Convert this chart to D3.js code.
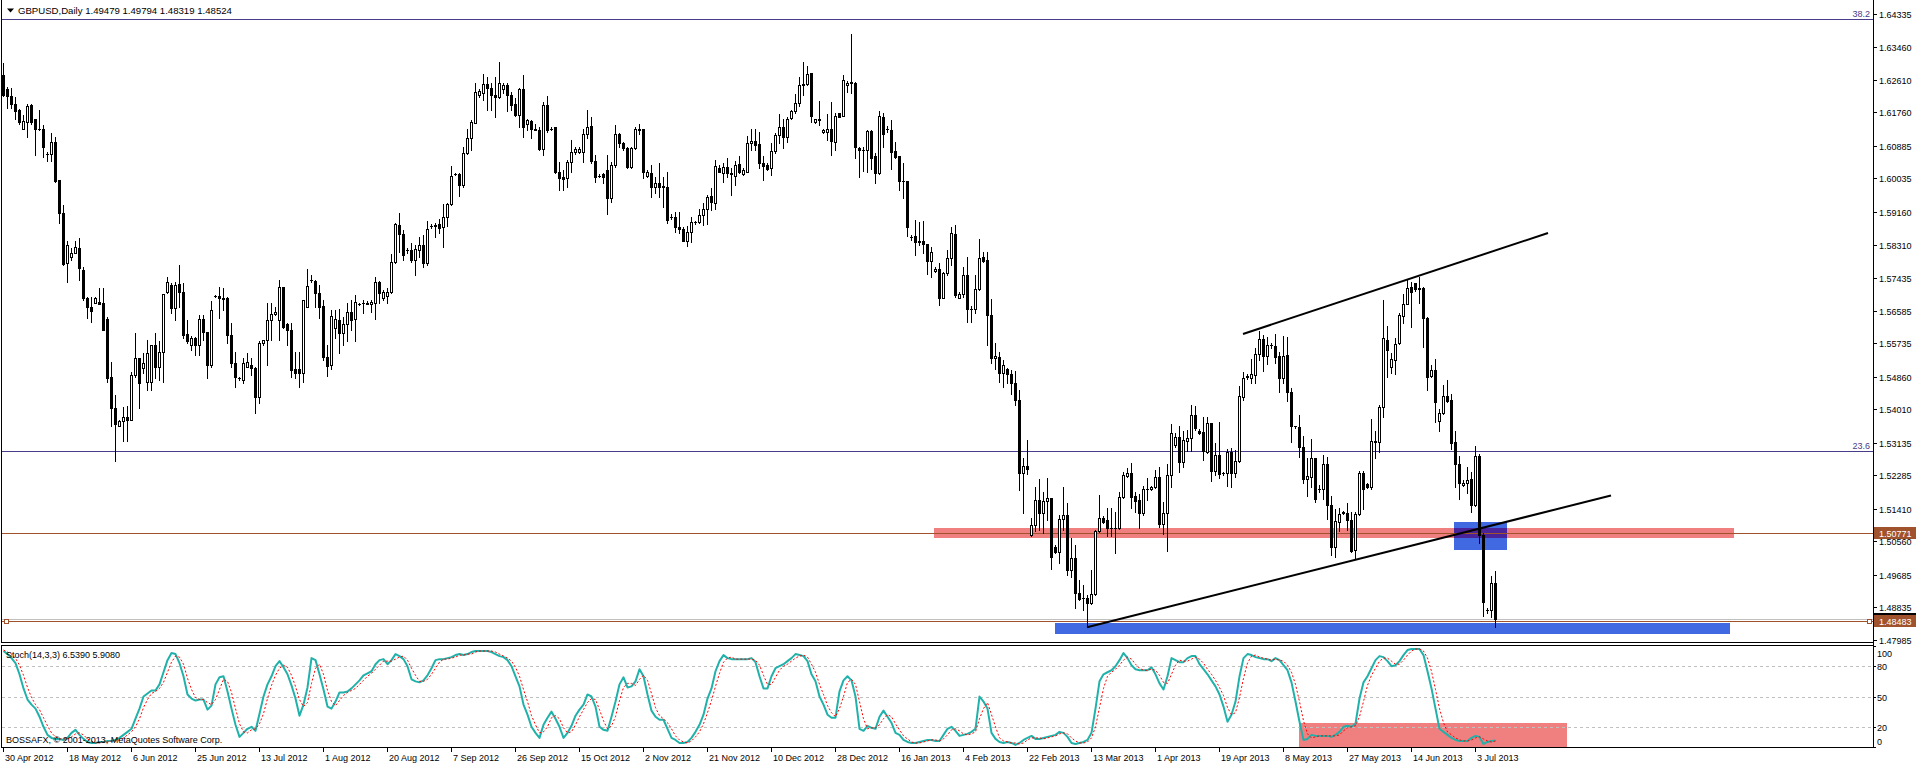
<!DOCTYPE html>
<html><head><meta charset="utf-8">
<script src="https://cdn.jsdelivr.net/npm/d3@7"></script>
<style>
html,body{margin:0;padding:0;background:#fff;}
svg{display:block;}
text{font-family:"Liberation Sans",Arial,sans-serif;font-size:9px;fill:#000;}
text.hdr{font-size:9.6px;}
</style></head><body>
<svg id="c" width="1916" height="766" shape-rendering="crispEdges"></svg>
<script>
// ---------------- DATA ----------------
const title = "GBPUSD,Daily";
const lastQuote = ["1.49479","1.49794","1.48319","1.48524"];
const stochTitle = "Stoch(14,3,3) 6.5390 5.9080";
const copyright = "BOSSAFX, \u00A9 2001-2013, MetaQuotes Software Corp.";

const openP = [
1.6274,1.6236,1.6219,1.6198,1.6182,1.6133,1.6152,1.6195,1.6158,1.6133,
1.6132,1.6068,1.6067,1.6099,1.6000,1.5913,1.5782,1.5798,1.5810,1.5821,
1.5765,1.5691,1.5669,1.5679,1.5681,1.5678,1.5636,1.5484,1.5404,1.5357,
1.5369,1.5382,1.5373,1.5491,1.5534,1.5508,1.5473,1.5471,1.5569,1.5510,
1.5551,1.5708,1.5725,1.5665,1.5728,1.5706,1.5597,1.5569,1.5586,1.5569,
1.5636,1.5603,1.5517,1.5697,1.5697,1.5692,1.5691,1.5595,1.5521,1.5482,
1.5477,1.5512,1.5517,1.5508,1.5432,1.5573,1.5582,1.5634,1.5650,1.5634,
1.5721,1.5624,1.5608,1.5505,1.5505,1.5495,1.5667,1.5738,1.5737,1.5704,
1.5671,1.5538,1.5517,1.5612,1.5634,1.5599,1.5624,1.5656,1.5636,1.5676,
1.5679,1.5676,1.5676,1.5679,1.5734,1.5692,1.5697,1.5706,1.5785,1.5882,
1.5859,1.5817,1.5817,1.5791,1.5817,1.5830,1.5784,1.5879,1.5879,1.5884,
1.5878,1.5902,1.5937,1.6015,1.6015,1.5986,1.6069,1.6108,1.6149,1.6221,
1.6228,1.6250,1.6241,1.6221,1.6215,1.6236,1.6247,1.6221,1.6198,1.6169,
1.6236,1.6147,1.6154,1.6134,1.6130,1.6080,1.6195,1.6134,1.6139,1.6021,
1.6008,1.6004,1.6047,1.6073,1.6073,1.6073,1.6120,1.6140,1.6049,1.6011,
1.6014,1.6026,1.5952,1.6039,1.6120,1.6095,1.6082,1.6034,1.6084,1.6130,
1.6133,1.6011,1.6017,1.5980,1.5993,1.5985,1.5980,1.5904,1.5902,1.5876,
1.5871,1.5841,1.5863,1.5889,1.5889,1.5908,1.5925,1.5957,1.5939,1.6032,
1.6019,1.6034,1.6019,1.6011,1.6041,1.6015,1.6021,1.6095,1.6101,1.6093,
1.6045,1.6039,1.6030,1.6075,1.6117,1.6139,1.6111,1.6162,1.6180,1.6200,
1.6247,1.6250,1.6278,1.6152,1.6158,1.6124,1.6126,1.6134,1.6100,1.6174,
1.6167,1.6247,1.6256,1.6254,1.6084,1.6078,1.6078,1.6127,1.6062,1.6017,
1.6163,1.6132,1.6130,1.6075,1.6062,1.5998,1.5997,1.5850,1.5853,1.5841,
1.5841,1.5832,1.5789,1.5762,1.5767,1.5691,1.5756,1.5795,1.5859,1.5691,
1.5702,1.5751,1.5662,1.5664,1.5714,1.5799,1.5790,1.5647,1.5534,1.5538,
1.5495,1.5505,1.5493,1.5469,1.5424,1.5235,1.5253,1.5073,1.5100,1.5164,
1.5129,1.5161,1.5170,1.5042,1.5029,1.5114,1.5125,1.4981,1.5013,1.4922,
1.4907,1.4907,1.4896,1.4919,1.5083,1.5116,1.5112,1.5092,1.5092,1.5090,
1.5171,1.5227,1.5234,1.5175,1.5164,1.5129,1.5194,1.5192,1.5199,1.5225,
1.5101,1.5131,1.5229,1.5308,1.5329,1.5264,1.5319,1.5327,1.5386,1.5345,
1.5342,1.5290,1.5366,1.5241,1.5282,1.5234,1.5234,1.5290,1.5235,1.5266,
1.5434,1.5486,1.5482,1.5490,1.5545,1.5585,1.5540,1.5569,1.5566,1.5541,
1.5482,1.5543,1.5447,1.5356,1.5354,1.5302,1.5218,1.5225,1.5273,1.5192,
1.5192,1.5258,1.5151,1.5042,1.5107,1.5134,1.5131,1.5112,1.5034,1.5128,
1.5235,1.5206,1.5197,1.5319,1.5315,1.5408,1.5582,1.5512,1.5529,1.5573,
1.5644,1.5677,1.5719,1.5730,1.5717,1.5717,1.5638,1.5489,1.5503,1.5371,
1.5390,1.5436,1.5425,1.5315,1.5258,1.5203,1.5208,1.5218,1.5151,1.5279,
1.5073,1.4877,1.4877,1.49479];

const highP = [
1.6304,1.6243,1.6241,1.6217,1.6184,1.6169,1.6198,1.6198,1.6160,1.6182,
1.6143,1.6073,1.6121,1.6113,1.6000,1.5934,1.5839,1.5821,1.5841,1.5847,
1.5772,1.5695,1.5695,1.5695,1.5717,1.5717,1.5641,1.5525,1.5438,1.5373,
1.5408,1.5410,1.5497,1.5599,1.5534,1.5549,1.5582,1.5569,1.5599,1.5578,
1.5702,1.5745,1.5730,1.5734,1.5778,1.5730,1.5634,1.5591,1.5589,1.5647,
1.5647,1.5603,1.5684,1.5699,1.5721,1.5717,1.5695,1.5625,1.5551,1.5486,
1.5534,1.5547,1.5534,1.5512,1.5580,1.5583,1.5678,1.5678,1.5669,1.5738,
1.5721,1.5625,1.5625,1.5551,1.5551,1.5686,1.5767,1.5751,1.5738,1.5725,
1.5686,1.5569,1.5660,1.5660,1.5662,1.5643,1.5678,1.5686,1.5699,1.5679,
1.5686,1.5684,1.5686,1.5747,1.5737,1.5712,1.5717,1.5806,1.5886,1.5914,
1.5869,1.5821,1.5834,1.5830,1.5852,1.5856,1.5893,1.5884,1.5886,1.5897,
1.5937,1.5940,1.6036,1.6019,1.6019,1.6087,1.6133,1.6156,1.6254,1.6236,
1.6276,1.6269,1.6252,1.6269,1.6308,1.6254,1.6252,1.6230,1.6213,1.6239,
1.6274,1.6158,1.6156,1.6146,1.6139,1.6204,1.6219,1.6139,1.6139,1.6047,
1.6026,1.6052,1.6104,1.6085,1.6085,1.6134,1.6182,1.6163,1.6065,1.6014,
1.6017,1.6065,1.6046,1.6143,1.6121,1.6100,1.6086,1.6087,1.6139,1.6145,
1.6133,1.6026,1.6039,1.6008,1.6043,1.6008,1.6021,1.5910,1.5917,1.5917,
1.5878,1.5880,1.5904,1.5893,1.5925,1.5939,1.5960,1.5978,1.6052,1.6039,
1.6045,1.6058,1.6030,1.6049,1.6062,1.6030,1.6114,1.6132,1.6132,1.6126,
1.6062,1.6045,1.6095,1.6121,1.6172,1.6160,1.6165,1.6182,1.6224,1.6269,
1.6307,1.6298,1.6278,1.6160,1.6206,1.6132,1.6172,1.6204,1.6174,1.6175,
1.6274,1.6259,1.6382,1.6256,1.6087,1.6085,1.6130,1.6130,1.6071,1.6181,
1.6174,1.6141,1.6156,1.6100,1.6062,1.6043,1.5997,1.5856,1.5895,1.5891,
1.5893,1.5832,1.5825,1.5772,1.5784,1.5760,1.5817,1.5876,1.5882,1.5708,
1.5772,1.5799,1.5670,1.5751,1.5845,1.5812,1.5812,1.5690,1.5575,1.5551,
1.5529,1.5508,1.5504,1.5502,1.5450,1.5273,1.5321,1.5116,1.5197,1.5218,
1.5186,1.5221,1.5170,1.5046,1.5125,1.5197,1.5155,1.5064,1.5047,1.4955,
1.4942,1.4916,1.4981,1.5086,1.5177,1.5121,1.5144,1.5144,1.5134,1.5186,
1.5236,1.5247,1.5260,1.5186,1.5181,1.5201,1.5221,1.5201,1.5243,1.5249,
1.5160,1.5258,1.5362,1.5338,1.5356,1.5343,1.5347,1.5412,1.5409,1.5349,
1.5382,1.5380,1.5366,1.5314,1.5368,1.5238,1.5296,1.5299,1.5295,1.5462,
1.5499,1.5492,1.5533,1.5560,1.5605,1.5595,1.5590,1.5575,1.5597,1.5551,
1.5592,1.5590,1.5456,1.5357,1.5386,1.5331,1.5273,1.5323,1.5273,1.5203,
1.5282,1.5276,1.5175,1.5140,1.5142,1.5136,1.5155,1.5134,1.5134,1.5240,
1.5240,1.5209,1.5376,1.5345,1.5412,1.5685,1.5618,1.5547,1.5586,1.5651,
1.5703,1.5738,1.5734,1.5731,1.5747,1.5721,1.5641,1.5516,1.5531,1.5401,
1.5463,1.5477,1.5441,1.5345,1.5279,1.5215,1.5249,1.5238,1.5306,1.5284,
1.5077,1.4881,1.4966,1.49794];

const lowP = [
1.6219,1.6187,1.6187,1.6160,1.6147,1.6133,1.6113,1.6147,1.6065,1.6130,
1.6060,1.6050,1.6050,1.5995,1.5888,1.5778,1.5732,1.5791,1.5808,1.5738,
1.5686,1.5638,1.5630,1.5678,1.5676,1.5608,1.5473,1.5357,1.5267,1.5356,
1.5319,1.5319,1.5373,1.5486,1.5404,1.5495,1.5451,1.5451,1.5482,1.5477,
1.5473,1.5704,1.5651,1.5634,1.5669,1.5586,1.5573,1.5556,1.5543,1.5543,
1.5582,1.5482,1.5512,1.5695,1.5638,1.5660,1.5573,1.5512,1.5460,1.5477,
1.5469,1.5512,1.5491,1.5390,1.5416,1.5569,1.5517,1.5582,1.5647,1.5582,
1.5612,1.5569,1.5486,1.5482,1.5460,1.5473,1.5667,1.5734,1.5669,1.5638,
1.5530,1.5489,1.5505,1.5586,1.5547,1.5569,1.5578,1.5608,1.5578,1.5673,
1.5651,1.5676,1.5656,1.5636,1.5678,1.5686,1.5678,1.5704,1.5782,1.5812,
1.5791,1.5810,1.5786,1.5752,1.5799,1.5772,1.5778,1.5875,1.5852,1.5860,
1.5825,1.5879,1.5934,1.6013,1.5959,1.5982,1.6067,1.6078,1.6149,1.6217,
1.6208,1.6182,1.6182,1.6163,1.6213,1.6226,1.6180,1.6182,1.6167,1.6139,
1.6113,1.6130,1.6108,1.6130,1.6078,1.6065,1.6126,1.6130,1.6017,1.5973,
1.5973,1.5982,1.6021,1.6067,1.6069,1.6047,1.6108,1.6043,1.5995,1.6008,
1.5991,1.5912,1.5943,1.6034,1.6087,1.6078,1.6032,1.6032,1.6080,1.6120,
1.6004,1.6008,1.5956,1.5965,1.5956,1.5930,1.5886,1.5899,1.5863,1.5860,
1.5839,1.5827,1.5837,1.5884,1.5886,1.5882,1.5884,1.5921,1.5925,1.6021,
1.5995,1.6008,1.5960,1.5986,1.6017,1.6013,1.6021,1.6078,1.6078,1.6032,
1.6000,1.6026,1.6013,1.6069,1.6095,1.6084,1.6100,1.6160,1.6174,1.6193,
1.6221,1.6247,1.6152,1.6149,1.6143,1.6121,1.6104,1.6065,1.6078,1.6163,
1.6167,1.6230,1.6226,1.6056,1.6008,1.6024,1.6021,1.6027,1.5993,1.6015,
1.6087,1.6126,1.6027,1.6056,1.5973,1.5953,1.5853,1.5843,1.5805,1.5830,
1.5808,1.5754,1.5745,1.5760,1.5673,1.5691,1.5752,1.5778,1.5695,1.5691,
1.5693,1.5630,1.5630,1.5652,1.5712,1.5786,1.5569,1.5521,1.5505,1.5473,
1.5460,1.5469,1.5440,1.5413,1.5190,1.5131,1.5232,1.5070,1.5084,1.5086,
1.5077,1.5112,1.4984,1.5026,1.4999,1.5086,1.4968,1.4964,1.4883,1.4903,
1.4877,1.4833,1.4893,1.4916,1.5080,1.5105,1.5070,1.5070,1.5026,1.5088,
1.5168,1.5225,1.5142,1.5134,1.5092,1.5125,1.5164,1.5190,1.5195,1.5094,
1.5075,1.5032,1.5199,1.5303,1.5238,1.5249,1.5293,1.5292,1.5347,1.5336,
1.5268,1.5288,1.5214,1.5230,1.5221,1.5229,1.5201,1.5197,1.5225,1.5264,
1.5425,1.5480,1.5470,1.5470,1.5530,1.5500,1.5520,1.5560,1.5521,1.5447,
1.5470,1.5423,1.5315,1.5351,1.5276,1.5208,1.5175,1.5197,1.5158,1.5186,
1.5166,1.5115,1.5021,1.5014,1.5084,1.5128,1.5086,1.5027,1.5009,1.5125,
1.5140,1.5195,1.5192,1.5273,1.5290,1.5382,1.5486,1.5495,1.5493,1.5571,
1.5625,1.5676,1.5615,1.5711,1.5679,1.5564,1.5450,1.5486,1.5367,1.5343,
1.5389,1.5421,1.5296,1.5199,1.5166,1.5201,1.5183,1.5134,1.5148,1.5053,
1.4860,1.4868,1.4858,1.48319];

const closeP = [
1.6221,1.6220,1.6198,1.6180,1.6152,1.6154,1.6194,1.6152,1.6132,1.6133,
1.6085,1.6068,1.6099,1.5998,1.5913,1.5780,1.5830,1.5810,1.5824,1.5769,
1.5691,1.5669,1.5658,1.5691,1.5676,1.5608,1.5482,1.5404,1.5362,1.5369,
1.5382,1.5373,1.5491,1.5534,1.5469,1.5521,1.5547,1.5569,1.5510,1.5551,
1.5702,1.5732,1.5665,1.5725,1.5706,1.5595,1.5578,1.5586,1.5569,1.5636,
1.5603,1.5517,1.5660,1.5697,1.5692,1.5688,1.5595,1.5521,1.5486,1.5482,
1.5523,1.5525,1.5508,1.5432,1.5573,1.5582,1.5634,1.5650,1.5654,1.5721,
1.5617,1.5608,1.5504,1.5495,1.5495,1.5686,1.5724,1.5738,1.5704,1.5669,
1.5538,1.5514,1.5645,1.5636,1.5599,1.5624,1.5656,1.5634,1.5682,1.5676,
1.5679,1.5679,1.5682,1.5734,1.5704,1.5706,1.5708,1.5785,1.5884,1.5859,
1.5804,1.5817,1.5791,1.5819,1.5830,1.5784,1.5872,1.5879,1.5882,1.5873,
1.5902,1.5937,1.6010,1.6015,1.5986,1.6069,1.6108,1.6152,1.6230,1.6233,
1.6250,1.6241,1.6221,1.6215,1.6252,1.6247,1.6221,1.6195,1.6169,1.6236,
1.6139,1.6156,1.6132,1.6130,1.6080,1.6195,1.6130,1.6134,1.6021,1.6004,
1.6002,1.6047,1.6073,1.6080,1.6080,1.6120,1.6139,1.6049,1.6008,1.6011,
1.6008,1.5952,1.6039,1.6120,1.6095,1.6082,1.6034,1.6084,1.6134,1.6134,
1.6021,1.6021,1.5980,1.5993,1.5982,1.5980,1.5895,1.5904,1.5876,1.5871,
1.5841,1.5863,1.5889,1.5889,1.5908,1.5925,1.5954,1.5941,1.6036,1.6021,
1.6034,1.6017,1.6015,1.6040,1.6021,1.6026,1.6095,1.6101,1.6091,1.6043,
1.6037,1.6027,1.6075,1.6117,1.6137,1.6111,1.6158,1.6180,1.6200,1.6247,
1.6250,1.6276,1.6167,1.6158,1.6155,1.6130,1.6134,1.6101,1.6167,1.6165,
1.6261,1.6252,1.6252,1.6085,1.6078,1.6078,1.6127,1.6058,1.6017,1.6167,
1.6120,1.6132,1.6073,1.6060,1.5998,1.5998,1.5876,1.5850,1.5837,1.5837,
1.5832,1.5789,1.5812,1.5767,1.5691,1.5756,1.5795,1.5862,1.5699,1.5702,
1.5751,1.5664,1.5662,1.5714,1.5797,1.5789,1.5647,1.5534,1.5540,1.5495,
1.5516,1.5493,1.5469,1.5424,1.5235,1.5253,1.5244,1.5100,1.5164,1.5129,
1.5161,1.5170,1.5016,1.5029,1.5114,1.5125,1.4981,1.5012,1.4920,1.4906,
1.4907,1.4896,1.4919,1.5083,1.5118,1.5107,1.5092,1.5092,1.5090,1.5171,
1.5229,1.5234,1.5173,1.5162,1.5129,1.5192,1.5192,1.5199,1.5225,1.5101,
1.5131,1.5229,1.5338,1.5329,1.5264,1.5321,1.5327,1.5386,1.5353,1.5338,
1.5292,1.5366,1.5241,1.5282,1.5232,1.5234,1.5290,1.5235,1.5266,1.5436,
1.5482,1.5487,1.5494,1.5545,1.5585,1.5540,1.5570,1.5569,1.5538,1.5482,
1.5541,1.5447,1.5357,1.5356,1.5302,1.5218,1.5227,1.5273,1.5166,1.5192,
1.5258,1.5151,1.5042,1.5109,1.5128,1.5129,1.5112,1.5032,1.5128,1.5235,
1.5192,1.5197,1.5319,1.5315,1.5408,1.5586,1.5556,1.5532,1.5571,1.5647,
1.5677,1.5717,1.5706,1.5714,1.5714,1.5638,1.5486,1.5503,1.5421,1.5390,
1.5436,1.5423,1.5312,1.5257,1.5208,1.5209,1.5216,1.5151,1.5279,1.5073,
1.4899,1.4877,1.4947,1.48524];

const stochK = [
95,92,88,83,72,58,47,42,38,30, 20,12,9,8,8,7,9,14,17,12,
8,5,4,4,5,5,6,6,7,9, 12,15,18,28,38,50,53,56,56,62,
74,86,93,92,83,70,52,48,46,47, 47,37,41,62,69,70,55,38,22,10,
14,18,20,16,33,50,62,70,80,85, 79,72,61,48,31,42,59,88,86,72,
57,40,38,45,54,54,55,58,62,66, 71,73,75,82,86,87,82,86,92,90,
87,80,67,65,64,66,71,78,86,87, 87,88,89,91,92,91,92,94,95,95,
95,95,94,92,90,89,86,80,70,60, 42,32,20,14,9,22,29,35,28,20,
9,14,21,31,37,42,52,50,40,20, 17,16,30,45,62,69,59,60,65,77,
70,52,36,30,27,27,18,9,7,4, 4,5,9,15,22,32,48,58,75,85,
91,88,87,87,87,87,87,88,84,70, 58,58,70,78,80,82,85,88,92,91,
90,85,72,65,50,42,32,29,29,55, 66,70,66,50,18,16,21,19,18,30,
36,30,24,14,12,7,5,4,4,5, 6,7,7,6,6,12,18,20,16,11,
12,13,15,18,50,45,38,14,8,5, 4,5,4,2,4,7,9,11,8,8,
9,10,11,12,15,14,10,4,3,4, 5,7,14,38,65,72,74,76,80,86,
93,88,81,77,76,76,76,79,72,63, 57,70,88,86,84,84,88,90,90,82,
77,72,66,60,52,40,25,32,45,70, 88,92,91,89,88,87,87,85,88,86,
81,76,64,45,25,7,8,12,11,11, 11,11,10,12,15,20,21,20,23,48,
64,70,78,86,90,89,85,80,81,85, 91,96,97,97,97,91,75,58,38,18,
15,12,9,7,6,6,6,9,11,10, 3,5,6,6.539];

const stochD = [
96,94,92,88,81,71,59,49,42,37, 29,21,14,10,8,8,8,10,13,14,
12,8,6,4,4,5,5,6,6,7, 9,12,15,20,28,39,47,53,55,58,
64,74,84,90,89,82,68,57,49,47, 47,44,42,47,57,67,65,54,38,23,
15,14,17,18,23,33,48,61,71,78, 81,79,71,60,47,40,44,63,78,82,
72,56,45,41,46,51,54,56,58,62, 66,70,73,77,81,85,85,85,87,89,
90,86,78,71,65,65,67,72,78,84, 87,87,88,89,91,91,92,92,94,95,
95,95,95,94,92,90,88,85,79,70, 57,45,31,22,14,15,20,29,31,28,
19,14,15,22,30,37,44,48,47,37, 26,18,21,30,46,59,63,63,61,67,
71,66,53,39,31,28,24,18,11,7, 5,4,6,10,15,23,34,46,60,73,
84,88,89,87,87,87,87,87,86,81, 71,62,62,69,76,80,82,85,88,90,
91,89,82,74,62,52,41,34,30,38, 50,64,67,62,45,28,18,19,19,22,
28,32,30,23,17,11,8,5,4,4, 5,6,7,7,6,8,12,17,18,16,
13,12,13,15,28,38,44,32,20,9, 6,5,4,4,3,4,7,9,9,9,
8,9,10,11,13,14,13,9,6,4, 4,5,9,20,39,58,70,74,77,81,
86,89,87,82,78,76,76,77,76,71, 64,63,72,81,86,85,85,87,89,87,
83,77,72,66,59,51,39,32,34,49, 68,83,90,91,89,88,87,86,87,86,
85,81,74,62,45,26,13,9,10,11, 11,11,11,11,12,16,19,20,21,30,
45,61,71,78,85,88,88,85,82,82, 86,91,95,97,97,95,88,75,57,38,
24,15,12,9,7,6,6,7,9,10, 8,6,5,5.908];

const dateLabels = ["30 Apr 2012","18 May 2012","6 Jun 2012","25 Jun 2012","13 Jul 2012","1 Aug 2012",
"20 Aug 2012","7 Sep 2012","26 Sep 2012","15 Oct 2012","2 Nov 2012","21 Nov 2012","10 Dec 2012",
"28 Dec 2012","16 Jan 2013","4 Feb 2013","22 Feb 2013","13 Mar 2013","1 Apr 2013","19 Apr 2013",
"8 May 2013","27 May 2013","14 Jun 2013","3 Jul 2013"];
const dateLabelBars = [0,16,32,48,64,80,96,112,128,144,160,176,192,208,224,240,256,272,288,304,320,336,352,368];

const priceTicks = [1.64335,1.63460,1.62610,1.61760,1.60885,1.60035,1.59160,1.58310,1.57435,1.56585,
1.55735,1.54860,1.54010,1.53135,1.52285,1.51410,1.50560,1.49685,1.48835,1.47985];
const stochLevels = [20,50,80];
const stochAxisLabels = [100,80,50,20,0];

const fibLevels = [["38.2",1.6420],["23.6",1.5291]];
const levelLines = [1.50771,1.48483];
const bidPrice = 1.48524;

// zones: [barFrom, barTo, priceLow, priceHigh]
const resistanceZone = [232.75,432.75,1.5066,1.5092];
const breakBox = [362.75,376,1.5034,1.5107];
const supportZone = [263,431.75,1.4814,1.4844];
const stochZone = [324,391,0,24];
// trend lines: [bar1, price1, bar2, price2]
const trendLines = [[310,1.55975,386.25,1.58612],[271,1.48317,402,1.51758]];

// ---------------- DRAW ----------------
const svg = d3.select('#c');
const AX = 1873;
const xS = d3.scaleLinear().domain([0,467]).range([3,3+4*467]);
const yP = d3.scaleLinear().domain([1.47985,1.64335]).range([640,640-0.1635*3830]);
const yS = d3.scaleLinear().domain([0,100]).range([747,646]);
const R = Math.round;

const defs = svg.append('defs');
defs.append('clipPath').attr('id','cm').append('rect').attr('x',2).attr('y',0).attr('width',AX-2).attr('height',642);
defs.append('clipPath').attr('id','cs').append('rect').attr('x',2).attr('y',646).attr('width',AX-2).attr('height',101);

const gm = svg.append('g').attr('clip-path','url(#cm)');
const gs = svg.append('g').attr('clip-path','url(#cs)');

function zoneRect(g, z, color, ys){
  const x0=R(xS(z[0])), x1=R(xS(z[1]));
  const y0=R(ys(z[3])), y1=R(ys(z[2]));
  g.append('rect').attr('x',x0).attr('y',y0).attr('width',x1-x0).attr('height',y1-y0).attr('fill',color);
}
zoneRect(gm, resistanceZone, '#F08080', yP);
zoneRect(gm, breakBox, '#4169E1', yP);
const ov = [Math.max(resistanceZone[0],breakBox[0]),Math.min(resistanceZone[1],breakBox[1]),
            Math.max(resistanceZone[2],breakBox[2]),Math.min(resistanceZone[3],breakBox[3])];
zoneRect(gm, ov, '#4B2399', yP);
zoneRect(gm, supportZone, '#4169E1', yP);

fibLevels.forEach(([lab,p])=>{
  const yy = R(yP(p))+0.5;
  gm.append('line').attr('x1',2).attr('x2',AX).attr('y1',yy).attr('y2',yy).attr('stroke','#483D8B').attr('stroke-width',1);
  svg.append('text').attr('x',AX-3).attr('y',yy-2.5).attr('text-anchor','end').style('fill','#483D8B').text(lab);
});
{ const yy=R(yP(bidPrice))+0.5;
  gm.append('line').attr('x1',2).attr('x2',AX).attr('y1',yy).attr('y2',yy).attr('stroke','#C0C0C0'); }
levelLines.forEach(p=>{
  const yy=R(yP(p))+0.5;
  gm.append('line').attr('x1',2).attr('x2',AX).attr('y1',yy).attr('y2',yy).attr('stroke','#A0522D');
});
{ const yy=R(yP(levelLines[1]));
  [4, AX-6].forEach(xx=>{
    gm.append('rect').attr('x',xx+0.5).attr('y',yy-2+0.5).attr('width',4).attr('height',4)
      .attr('fill','#fff').attr('stroke','#A0522D');
  }); }

// candles
const bars = d3.range(closeP.length).map(i=>({i,o:openP[i],h:highP[i],l:lowP[i],c:closeP[i]}));
const gc = gm.append('g');
gc.selectAll('rect.w').data(bars).join('rect').attr('class','w')
  .attr('x',d=>R(xS(d.i))).attr('width',1)
  .attr('y',d=>R(yP(d.h))).attr('height',d=>Math.max(1,R(yP(d.l))-R(yP(d.h))+1)).attr('fill','#000');
gc.selectAll('rect.b').data(bars).join('rect').attr('class','b')
  .attr('x',d=>R(xS(d.i))-1).attr('width',3)
  .attr('y',d=>R(yP(Math.max(d.o,d.c))))
  .attr('height',d=>R(yP(Math.min(d.o,d.c)))-R(yP(Math.max(d.o,d.c)))+1).attr('fill','#000');
gc.selectAll('rect.f').data(bars.filter(d=>d.c>d.o && R(yP(d.o))-R(yP(d.c))>=2)).join('rect').attr('class','f')
  .attr('x',d=>R(xS(d.i))).attr('width',1)
  .attr('y',d=>R(yP(d.c))+1)
  .attr('height',d=>R(yP(d.o))-R(yP(d.c))-1).attr('fill','#fff');

trendLines.forEach(t=>{
  gm.append('line').attr('x1',xS(t[0])).attr('y1',yP(t[1])).attr('x2',xS(t[2])).attr('y2',yP(t[3]))
    .attr('stroke','#000').attr('stroke-width',2).attr('shape-rendering','auto');
});

// stochastic panel
zoneRect(gs, stochZone, '#F08080', yS);
stochLevels.forEach(v=>{
  const yy=R(yS(v))+0.5;
  gs.append('line').attr('x1',2).attr('x2',AX).attr('y1',yy).attr('y2',yy)
    .attr('stroke','#C0C0C0').attr('stroke-dasharray','3,3');
});
const lineK = d3.line().x((d,i)=>xS(i)+0.5).y(d=>yS(d));
gs.append('path').attr('d',lineK(stochK)).attr('fill','none').attr('stroke','#20B2AA').attr('stroke-width',2)
  .attr('shape-rendering','auto').attr('stroke-linejoin','round');
gs.append('path').attr('d',lineK(stochD)).attr('fill','none').attr('stroke','#FF0000').attr('stroke-width',1)
  .attr('stroke-dasharray','2,2').attr('shape-rendering','auto');

// frames
const fr = svg.append('g').attr('stroke','#000').attr('fill','none');
fr.append('line').attr('x1',1.5).attr('x2',1.5).attr('y1',0).attr('y2',643);
fr.append('line').attr('x1',1).attr('x2',AX+1).attr('y1',642.5).attr('y2',642.5);
fr.append('line').attr('x1',1).attr('x2',AX+1).attr('y1',645.5).attr('y2',645.5);
fr.append('line').attr('x1',1.5).attr('x2',1.5).attr('y1',645).attr('y2',748);
fr.append('line').attr('x1',1).attr('x2',AX+1).attr('y1',747.5).attr('y2',747.5);
fr.append('line').attr('x1',AX+0.5).attr('x2',AX+0.5).attr('y1',0).attr('y2',748);

priceTicks.forEach(p=>{
  const yy=R(yP(p));
  svg.append('line').attr('x1',AX).attr('x2',AX+4).attr('y1',yy+0.5).attr('y2',yy+0.5).attr('stroke','#000');
  svg.append('text').attr('x',1879).attr('y',yy+3.5).text(p.toFixed(5));
});
function axisBox(p, color, txt){
  const yy=R(yP(p));
  svg.append('rect').attr('x',AX+1).attr('y',yy-6).attr('width',1916-AX-1).attr('height',12).attr('fill',color);
  svg.append('text').attr('x',1879).attr('y',yy+3.5).style('fill','#fff').text(txt);
}
axisBox(bidPrice,'#000',bidPrice.toFixed(5));
axisBox(levelLines[0],'#A0522D',levelLines[0].toFixed(5));
axisBox(levelLines[1],'#A0522D',levelLines[1].toFixed(5));

stochAxisLabels.forEach(v=>{
  const yy=R(yS(v));
  svg.append('line').attr('x1',AX).attr('x2',AX+3).attr('y1',yy+0.5).attr('y2',yy+0.5).attr('stroke','#000');
  const ty=Math.min(741,Math.max(653,yy));
  svg.append('text').attr('x',1877).attr('y',ty+3.5).text(v);
});

dateLabels.forEach((lab,k)=>{
  const xx=R(xS(dateLabelBars[k]));
  svg.append('line').attr('x1',xx+0.5).attr('x2',xx+0.5).attr('y1',748).attr('y2',752).attr('stroke','#000');
  svg.append('text').attr('x',xx+2).attr('y',761).text(lab);
});

svg.append('path').attr('d','M7,8.5 L14,8.5 L10.5,12.5 Z').attr('fill','#000').attr('shape-rendering','auto');
svg.append('text').attr('class','hdr').attr('x',18).attr('y',14).text(title+' '+lastQuote.join(' '));
svg.append('text').attr('x',6).attr('y',658).text(stochTitle);
svg.append('text').attr('x',6).attr('y',743).text(copyright);
</script>
</body></html>
